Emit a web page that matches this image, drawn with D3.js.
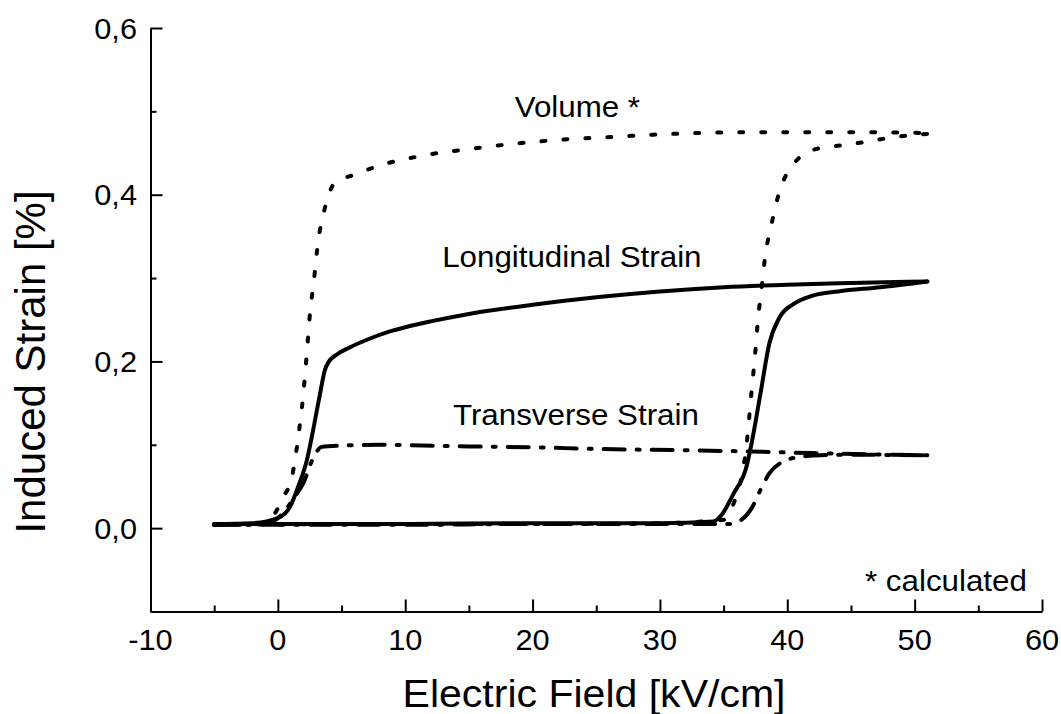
<!DOCTYPE html>
<html lang="en">
<head>
<meta charset="UTF-8">
<title>Induced Strain vs Electric Field</title>
<script src="https://cdn.jsdelivr.net/npm/d3@7"></script>
<style>
    body {
        margin: 0;
        padding: 0;
        overflow: hidden;
        background: #fff;
    }

    svg {
        display: block;
    }

    text {
        font-family: Arial, "Liberation Sans", sans-serif;
        fill: #000;
    }
</style>
</head>
<body>
<svg id="chart" width="1061" height="714"></svg>
<script>
    // values: field in kV/cm, strain in %
    // "rise" = lower branch (jumps near 37 kV/cm), "fall" = upper branch (drops near 3 kV/cm)
    var longRiseE = [-5, 0, 10, 20, 30, 34.2, 34.85, 35.8, 36.8, 37.2, 37.9, 38.6, 39.4, 40.5, 42, 44, 47.3, 51];
    var longRiseS = [0.005, 0.005, 0.005, 0.006, 0.006, 0.008, 0.016, 0.042, 0.074, 0.102, 0.162, 0.222, 0.253, 0.269, 0.279, 0.284, 0.289, 0.296];
    var longFallE = [-5, -2, 0, 1, 1.6, 2.27, 2.8, 3.32, 3.7, 3.97, 4.6, 5.67, 7, 8.8, 10, 12, 15, 20, 25, 30, 35, 40, 45, 51];
    var longFallS = [0.005, 0.006, 0.012, 0.027, 0.05, 0.081, 0.12, 0.162, 0.19, 0.199, 0.208, 0.217, 0.226, 0.236, 0.241, 0.248, 0.257, 0.268, 0.277, 0.284, 0.289, 0.292, 0.294, 0.296];

    var transRiseE = [-5, 10, 20, 30, 35.5, 36.15, 37.2, 37.9, 38.6, 39.7, 41.0, 42.6, 45, 51];
    var transRiseS = [0.004, 0.004, 0.005, 0.005, 0.005, 0.0076, 0.024, 0.046, 0.066, 0.080, 0.0855, 0.0875, 0.088, 0.0875];
    var transFallE = [-5, -1, 0.4, 1.2, 2.0, 2.8, 3.45, 5, 8, 15, 20, 25, 31.6, 37, 42, 51];
    var transFallS = [0.004, 0.005, 0.018, 0.035, 0.054, 0.085, 0.0975, 0.099, 0.1, 0.098, 0.097, 0.095, 0.0935, 0.092, 0.09, 0.0875];

    var volRiseE = [-5, 10, 20, 30, 35, 35.8, 36.3, 36.8, 37.2, 37.5, 37.7, 38.0, 38.3, 38.7, 39.1, 39.6, 40.5, 42.3, 44.1, 46, 47.5, 49.4, 51];
    var volRiseS = [0.004, 0.005, 0.005, 0.006, 0.01, 0.03, 0.054, 0.10, 0.165, 0.213, 0.25, 0.29, 0.33, 0.36, 0.388, 0.413, 0.437, 0.455, 0.459, 0.463, 0.467, 0.471, 0.473];
    var volFallE = [-5, -1, -0.08, 0.44, 1.1, 1.6, 2.0, 2.27, 2.54, 2.8, 3.19, 3.58, 4.0, 4.4, 6.2, 8.0, 11.4, 15.1, 18.5, 22.2, 25.8, 29.5, 33, 37, 41, 45, 51];
    var volFallS = [0.004, 0.006, 0.0216, 0.0375, 0.061, 0.109, 0.161, 0.209, 0.261, 0.293, 0.347, 0.377, 0.40, 0.413, 0.425, 0.435, 0.447, 0.455, 0.461, 0.466, 0.469, 0.472, 0.474, 0.475, 0.475, 0.475, 0.474];

    var xMajor = [-10, 0, 10, 20, 30, 40, 50, 60];
    var xMinor = [-5, 5, 15, 25, 35, 45, 55];
    var yMajor = [0, 0.2, 0.4, 0.6];
    var yMinor = [-0.1, 0.1, 0.3, 0.5];

    var labels = [
        { text: "Volume *", e: 18.6, s: 0.493 },
        { text: "Longitudinal Strain", e: 12.9, s: 0.313 },
        { text: "Transverse Strain", e: 13.75, s: 0.124 },
        { text: "* calculated", e: 46.1, s: -0.076 }
    ];

    var svg = d3.select("#chart");
    var xScale = d3.scaleLinear().domain([-10, 60]).range([150.5, 1042]);
    var yScale = d3.scaleLinear().domain([-0.1, 0.6]).range([611.5, 28]);

    // axes: ticks point inward, no labels from d3 (drawn below)
    var gx = svg.append("g").attr("transform", "translate(0," + yScale(-0.1) + ")");
    gx.call(d3.axisBottom(xScale).tickValues(xMajor).tickSize(-12).tickSizeOuter(0).tickFormat(""));
    gx.append("g").call(d3.axisBottom(xScale).tickValues(xMinor).tickSize(-6).tickSizeOuter(0).tickFormat(""))
        .select(".domain").remove();

    var gy = svg.append("g").attr("transform", "translate(" + xScale(-10) + ",0)");
    gy.call(d3.axisLeft(yScale).tickValues(yMajor).tickSize(-12).tickSizeOuter(0).tickFormat(""));
    gy.append("g").call(d3.axisLeft(yScale).tickValues(yMinor).tickSize(-6).tickSizeOuter(0).tickFormat(""))
        .select(".domain").remove();

    svg.selectAll(".domain, .tick line").attr("stroke", "#000").attr("stroke-width", 2);

    // text in the original is slightly wider than Arial, so stretch it a little
    function addText(str, x, y, size, anchor, sx, rot) {
        return svg.append("text")
            .attr("transform", "translate(" + x + "," + y + ") scale(" + sx + ",1)" + (rot ? " rotate(" + rot + ")" : ""))
            .attr("font-size", size)
            .attr("text-anchor", anchor)
            .text(str);
    }

    xMajor.forEach(function (v) {
        addText(String(v), xScale(v), 650, 29, "middle", 1.06);
    });
    yMajor.forEach(function (v) {
        addText(v.toFixed(1).replace(".", ","), 137, yScale(v) + 10.5, 29, "end", 1.06);
    });

    addText("Electric Field [kV/cm]", 594, 707, 38, "middle", 1.08);
    addText("Induced Strain [%]", 45, 362, 42, "middle", 1, -90);

    labels.forEach(function (d) {
        addText(d.text, xScale(d.e), yScale(d.s), 29, "start", 1.08);
    });

    // curves
    var line = d3.line()
        .x(function (d) { return xScale(d[0]); })
        .y(function (d) { return yScale(d[1]); })
        .curve(d3.curveMonotoneX);

    function branch(es, ss, dash) {
        var pts = es.map(function (e, i) { return [e, ss[i]]; });
        svg.append("path")
            .attr("d", line(pts))
            .attr("fill", "none")
            .attr("stroke", "#000")
            .attr("stroke-width", 4)
            .attr("stroke-linecap", "round")
            .attr("stroke-linejoin", "round")
            .attr("stroke-dasharray", dash);
    }

    branch(volRiseE, volRiseS, "4,18");
    branch(volFallE, volFallS, "4,18");
    branch(transRiseE, transRiseS, "21,12,3,12");
    branch(transFallE, transFallS, "21,12,3,12");
    branch(longRiseE, longRiseS, null);
    branch(longFallE, longFallS, null);
</script>
</body>
</html>
